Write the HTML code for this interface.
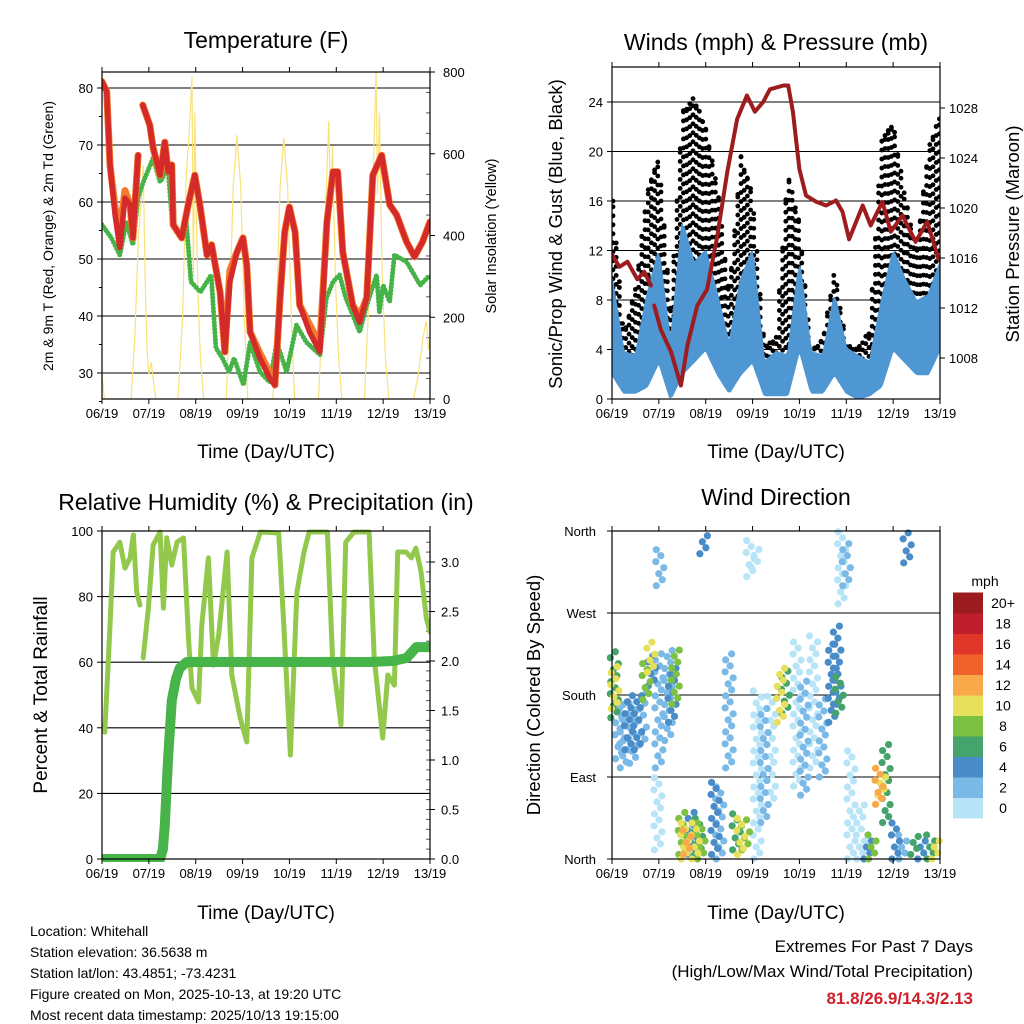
<!DOCTYPE html>
<html><head><meta charset="utf-8">
<style>
html,body{margin:0;padding:0;background:#fff;}
svg{display:block;font-family:"Liberation Sans",Arial,sans-serif;}
</style></head>
<body>
<svg id="svg" width="1024" height="1024" viewBox="0 0 1024 1024" xmlns="http://www.w3.org/2000/svg">
<rect width="1024" height="1024" fill="#fff"/>
<g id="texts" fill="#000">
<text x="266" y="48" font-size="23" text-anchor="middle">Temperature (F)</text>
<text x="776" y="50" font-size="23" text-anchor="middle">Winds (mph) &amp; Pressure (mb)</text>
<text x="266" y="510" font-size="23" text-anchor="middle">Relative Humidity (%) &amp; Precipitation (in)</text>
<text x="776" y="505" font-size="23" text-anchor="middle">Wind Direction</text>
<text x="266" y="458" font-size="19" text-anchor="middle">Time (Day/UTC)</text>
<text x="776" y="458" font-size="19" text-anchor="middle">Time (Day/UTC)</text>
<text x="266" y="919" font-size="19" text-anchor="middle">Time (Day/UTC)</text>
<text x="776" y="919" font-size="19" text-anchor="middle">Time (Day/UTC)</text>
<text transform="translate(53,236) rotate(-90)" font-size="14" text-anchor="middle">2m &amp; 9m T (Red, Orange) &amp; 2m Td (Green)</text>
<text transform="translate(496,236) rotate(-90)" font-size="14.5" text-anchor="middle">Solar Insolation (Yellow)</text>
<text transform="translate(562,234) rotate(-90)" font-size="18.5" text-anchor="middle">Sonic/Prop Wind &amp; Gust (Blue, Black)</text>
<text transform="translate(1019,234) rotate(-90)" font-size="18.5" text-anchor="middle">Station Pressure (Maroon)</text>
<text transform="translate(47,695) rotate(-90)" font-size="19" text-anchor="middle">Percent &amp; Total Rainfall</text>
<text transform="translate(540,695) rotate(-90)" font-size="18.5" text-anchor="middle">Direction (Colored By Speed)</text>
<text x="985" y="586" font-size="14" text-anchor="middle">mph</text>
<g font-size="14">
<text x="30" y="936">Location: Whitehall</text>
<text x="30" y="957">Station elevation: 36.5638 m</text>
<text x="30" y="978">Station lat/lon: 43.4851; -73.4231</text>
<text x="30" y="999">Figure created on Mon, 2025-10-13, at 19:20 UTC</text>
<text x="30" y="1020">Most recent data timestamp: 2025/10/13 19:15:00</text>
</g>
<text x="973" y="952" font-size="17" text-anchor="end">Extremes For Past 7 Days</text>
<text x="973" y="977" font-size="17" text-anchor="end">(High/Low/Max Wind/Total Precipitation)</text>
<text x="973" y="1004" font-size="17" font-weight="bold" fill="#d0202a" text-anchor="end">81.8/26.9/14.3/2.13</text>
</g>
</svg>
<script>
// ---------- data ----------
const dayLabels = ["06/19","07/19","08/19","09/19","10/19","11/19","12/19","13/19"];
const tempTicks = [30,40,50,60,70,80];
const solarTicks = [0,200,400,600,800];
const windTicks = [0,4,8,12,16,20,24];
const pressTicks = [1008,1012,1016,1020,1024,1028];
const rhTicks = [0,20,40,60,80,100];
const rainTicks = ["0.0","0.5","1.0","1.5","2.0","2.5","3.0"];
const dirTicks = ["North","East","South","West","North"];
const speedBins = ["0","2","4","6","8","10","12","14","16","18","20+"];

const tempDays = [0,.1,.17,.28,.38,.49,.6,.66,.77,.82,.87,1.02,1.09,1.24,1.34,1.41,1.49,1.52,1.7,1.84,1.98,2.09,2.24,2.34,2.52,2.62,2.73,2.88,3.01,3.09,3.16,3.37,3.58,3.69,3.8,3.9,4.0,4.12,4.22,4.43,4.65,4.8,4.93,5.03,5.14,5.35,5.5,5.65,5.78,5.97,6.14,6.29,6.5,6.67,6.84,7.0];
const temp9m = [81.1,79.4,66.5,57.7,52,60.7,59.5,53.7,68.2,null,77,73.5,69.5,64.7,70.5,65.3,66.5,56,53.7,59.5,64.7,59.5,50.7,52.5,44.2,33.7,46,51.2,53.7,48.9,37.2,32.6,29.1,27.9,43.2,54.7,59.1,54.7,41.9,37.2,33.7,56.5,65.3,65.3,51.2,41.9,38.9,43.2,64.7,68.2,59.5,57.7,53,50.4,53,56.5];
const temp2m = [81.1,79.4,66.5,59,55,62,59.5,53.7,68.2,null,77,73.5,69.5,64.7,70.5,65.3,66.5,56,53.7,59.5,64.7,59.5,50.7,52.5,44.2,33.7,48,51.2,53.7,48.9,37.2,33.5,30,27.9,43.2,54.7,59.1,54.7,41.9,38.5,35,56.5,65.3,65.3,51.2,41.9,40,43.2,64.7,68.2,59.5,57.7,53,50.4,53,56.5];
const dewDays = [0,.2,.38,.52,.66,.77,.87,1.09,1.24,1.41,1.5,1.68,1.8,1.9,2.1,2.33,2.43,2.57,2.71,2.82,3.02,3.16,3.37,3.58,3.73,3.94,4.15,4.36,4.65,4.79,4.93,5.07,5.2,5.5,5.65,5.86,5.92,6.0,6.14,6.24,6.5,6.79,7.0];
const dewVals = [56,53.7,50.7,56.5,52.5,60.7,63.3,67.7,63.5,66,56,53.7,56.5,46,44.2,47.2,34.4,32.6,30.2,32.6,27.9,35.4,30.2,28.4,35.4,30.2,38.4,35.4,33.2,43.2,46,47.2,43.2,37.2,41.9,47.2,40.7,45.4,42.5,50.7,49.5,45.4,47.2];
const solarDays = [0,.05,.62,.7,.78,.85,.88,.92,.96,1.0,1.05,1.1,1.15,1.62,1.72,1.8,1.86,1.92,1.95,1.98,2.02,2.05,2.1,2.17,2.65,2.72,2.8,2.88,2.96,3.04,3.11,3.65,3.72,3.8,3.88,3.96,4.04,4.11,4.62,4.7,4.78,4.84,4.88,4.92,4.98,5.05,5.12,5.6,5.68,5.75,5.8,5.85,5.88,5.92,5.98,6.05,6.12,6.65,6.75,6.85,6.92,6.97,7.0];
const solarVals = [60,0,0,150,400,500,572,300,120,60,90,40,0,0,200,550,650,790,300,700,400,250,100,0,0,200,520,646,520,200,0,0,200,520,640,520,200,0,0,200,500,680,450,620,300,100,0,0,200,400,600,800,500,700,300,100,0,0,60,150,190,120,150];

const windDays = [0,.25,.5,.75,1,1.25,1.5,1.75,2,2.25,2.5,2.75,3,3.25,3.5,3.75,4,4.25,4.5,4.75,5,5.25,5.5,5.75,6,6.25,6.5,6.75,7];
const sonicHigh = [9.7,3.8,3.5,8.4,12,4.4,14.3,11,12,8.4,4.4,9.7,12,3,3.8,3.5,11,3.8,3.5,8.4,4.1,3.5,3,7.9,12,9.7,7.9,8.4,11];
const sonicLow = [2,0.5,0.5,1,3,0,2,3,4,2,0.5,2,3,0.3,0.3,0.3,4,0.5,0.5,2,0.5,0,0.3,1,4,3,2,2,4];
const gustHigh = [17,5.2,8.9,16.7,19.7,7.3,23.3,24.4,21.9,17.3,8.4,19.7,16.5,4.4,4.9,18.3,14.3,3.8,4.9,10.5,4.4,4.1,5.6,21,22.3,16.5,12,20.2,23];
const gustLow = [8,2.5,2.5,6,9,2,10,9,10,6,2,7,9,1.5,2,2,8,2,1.5,5,2,1.5,1.5,5,9,7,5,6,8];
const pressDays = [0,.06,.16,.33,.54,.69,.83,.86,.9,1.04,1.26,1.47,1.61,1.82,2.03,2.25,2.46,2.67,2.88,3.05,3.23,3.37,3.66,3.76,3.86,4.0,4.14,4.36,4.57,4.78,4.92,5.06,5.35,5.52,5.77,5.95,6.2,6.48,6.73,6.97];
const pressVals = [1016.3,1015.9,1015.3,1015.7,1014.3,1014.9,1013.8,null,1012.2,1010.3,1008.5,1005.8,1009,1012.2,1013.5,1017.8,1022.9,1027.1,1029,1027.7,1028.5,1029.5,1029.8,1029.8,1027.7,1023.1,1021,1020.5,1020.2,1020.6,1019.7,1017.5,1020.2,1018.6,1020.5,1018.1,1019.4,1017.3,1018.9,1015.9];

const rhDays = [0,.06,.17,.24,.38,.49,.6,.67,.74,.81,.85,.88,.99,1.09,1.24,1.31,1.38,1.49,1.6,1.74,1.85,1.92,2.06,2.13,2.27,2.38,2.49,2.67,2.77,2.95,3.09,3.2,3.38,3.77,3.88,4.02,4.16,4.31,4.42,4.81,4.92,5.1,5.2,5.38,5.7,5.81,5.99,6.1,6.24,6.31,6.49,6.6,6.7,6.81,6.92,7.0];
const rhVals = [40.9,38.7,71,93.6,96.6,88.7,91.8,98.8,81.4,77.4,null,61.3,76.5,95.7,99.7,76.5,97.9,89.6,96.6,97.9,66.2,52.1,47.9,71.3,91.8,59.1,68.3,93.6,56.1,43,35.7,91.8,99.7,99.4,71.3,31.7,81.4,93.6,99.7,99.7,61.3,40.9,96.6,99.7,99.7,61.3,36.9,56.1,53,93.6,93.6,91.8,94.8,87.5,73.5,69.2];
const rainDays = [0,1.24,1.3,1.34,1.41,1.49,1.58,1.66,1.81,5.7,6.2,6.5,6.71,7.0];
const rainVals = [0,0,0.1,0.34,1.02,1.6,1.82,1.93,1.99,1.99,2.0,2.03,2.14,2.14];

const dirDay = [0.05,0.06,0.15,0.25,0.35,0.45,0.55,0.65,0.73,0.83,0.85,0.98,1.0,1.02,1.2,1.28,1.35,1.5,1.55,1.6,1.7,1.78,1.85,1.9,1.95,2.2,2.3,2.5,2.65,2.75,2.85,2.95,3.05,3.1,3.25,3.4,3.6,3.7,3.95,4.1,4.3,4.5,4.7,4.8,4.85,4.9,5.0,5.1,5.3,5.45,5.55,5.7,5.75,5.85,6.05,6.2,6.3,6.45,6.6,6.8,6.9];
const dirLo = [155,165,110,100,120,105,120,125,175,205,190,10,100,300,130,150,170,5,0,5,5,0,5,0,335,5,0,100,10,5,10,310,320,0,40,60,150,160,80,70,100,90,150,170,160,280,300,0,0,0,0,60,70,40,0,0,325,5,0,0,0];
const dirHi = [232,215,180,170,185,175,185,190,215,238,225,90,230,345,230,210,230,55,40,35,55,45,50,40,360,90,80,230,55,50,45,350,345,190,170,180,215,210,240,200,250,180,240,260,200,360,350,120,60,25,30,100,95,130,40,30,360,30,25,30,20];
const dirSpeed = [6,10,2,2,4,2,4,2,8,10,4,0,2,2,2,4,8,8,10,12,4,10,6,8,4,4,2,2,6,10,8,0,0,0,2,0,10,6,0,2,0,2,4,4,6,0,2,0,0,4,8,12,10,6,4,2,4,6,4,6,10];

// ---------- helpers ----------
const NS="http://www.w3.org/2000/svg";
const svg=document.getElementById('svg');
function mk(tag,attrs,parent){const e=document.createElementNS(NS,tag);for(const k in attrs)e.setAttribute(k,attrs[k]);(parent||svg).appendChild(e);return e;}
function lin(d0,d1,r0,r1){return v=>r0+(v-d0)*(r1-r0)/(d1-d0);}
function pathFrom(days,vals,xf,yf){let d="",pen=false;for(let i=0;i<days.length;i++){if(vals[i]===null){pen=false;continue;}d+=(pen?"L":"M")+xf(days[i]).toFixed(1)+","+yf(vals[i]).toFixed(1);pen=true;}return d;}
function interp(days,vals,t){for(let i=0;i<days.length-1;i++){if(t>=days[i]&&t<=days[i+1]){const f=(t-days[i])/(days[i+1]-days[i]);return vals[i]+f*(vals[i+1]-vals[i]);}}return vals[vals.length-1];}
const speedColors=["#b8e4f8","#7bb9e6","#4a8cc8","#45a46c","#7dc142","#e6e05a","#f9a94a","#f0622c","#e0362a","#bf1e2d","#9b1b1f"];

function panelFrame(g,x0,x1,y0,y1,xf){
  mk('rect',{x:x0,y:y0,width:x1-x0,height:y1-y0,fill:'none',stroke:'#000','stroke-width':1.2},g);
  dayLabels.forEach((lab,i)=>{const x=xf(i);
    mk('line',{x1:x,y1:y1,x2:x,y2:y1+5,stroke:'#000'},g);
    mk('line',{x1:x,y1:y0,x2:x,y2:y0-5,stroke:'#000'},g);
    const t=mk('text',{x:x,y:y1+19,'font-size':13,'text-anchor':'middle'},g);t.textContent=lab;
    
    
  });
}

// ---------- Panel 1: Temperature ----------
{
const g=mk('g',{});


const X0=102,X1=430,Y0=72,Y1=399;
const xf=lin(0,7,X0,X1), yT=lin(30,80,373,88), yS=lin(0,800,399,72);
const clip=mk('clipPath',{id:'c1'},g);mk('rect',{x:X0,y:Y0,width:X1-X0,height:Y1-Y0},clip);
tempTicks.forEach(v=>{const y=yT(v);mk('line',{x1:X0,x2:X1,y1:y,y2:y,stroke:'#000','stroke-width':1.1},g);
  mk('line',{x1:X0-5,x2:X0,y1:y,y2:y,stroke:'#000'},g);
  const t=mk('text',{x:X0-9,y:y+5,'font-size':13,'text-anchor':'end'},g);t.textContent=v;
  
  
});
for(let v=25;v<=82;v+=5){if(v%10)mk('line',{x1:X0-3,x2:X0,y1:yT(v),y2:yT(v),stroke:'#000'},g);}
solarTicks.forEach(v=>{const y=yS(v);mk('line',{x1:X1,x2:X1+5,y1:y,y2:y,stroke:'#000'},g);
  const t=mk('text',{x:X1+13,y:y+5,'font-size':13},g);t.textContent=v;
  
  
});
for(let v=50;v<800;v+=50){if(v%200)mk('line',{x1:X1-4,x2:X1,y1:yS(v),y2:yS(v),stroke:'#555'},g);}
const cg=mk('g',{'clip-path':'url(#c1)'},g);
const sol=mk('path',{d:pathFrom(solarDays,solarVals,xf,yS),fill:'none',stroke:'#f9e27a','stroke-width':1.2},cg);


const dew=mk('path',{d:pathFrom(dewDays,dewVals,xf,yT),fill:'none',stroke:'#45b347','stroke-width':5,'stroke-linecap':'round','stroke-dasharray':'0 3.5'},cg);


const or=mk('path',{d:pathFrom(tempDays,temp2m,xf,yT),fill:'none',stroke:'#f47b2a','stroke-width':7,'stroke-linejoin':'round','stroke-linecap':'round'},cg);


const rd=mk('path',{d:pathFrom(tempDays,temp9m,xf,yT),fill:'none',stroke:'#d42a2a','stroke-width':5.5,'stroke-linejoin':'round','stroke-linecap':'round'},cg);


panelFrame(g,X0,X1,Y0,Y1,xf);
}

// ---------- Panel 2: Winds ----------
{
const g=mk('g',{});


const X0=612,X1=940,Y0=67,Y1=399;
const xf=lin(0,7,X0,X1), yW=lin(0,24,399,102), yP=lin(1008,1028,358,108);
const clip=mk('clipPath',{id:'c2'},g);mk('rect',{x:X0,y:Y0,width:X1-X0,height:Y1-Y0},clip);
windTicks.forEach(v=>{const y=yW(v);mk('line',{x1:X0,x2:X1,y1:y,y2:y,stroke:'#000','stroke-width':1.1},g);
  mk('line',{x1:X0-5,x2:X0,y1:y,y2:y,stroke:'#000'},g);
  const t=mk('text',{x:X0-9,y:y+5,'font-size':13,'text-anchor':'end'},g);t.textContent=v;
  
  
});
pressTicks.forEach(v=>{const y=yP(v);mk('line',{x1:X1,x2:X1+5,y1:y,y2:y,stroke:'#000'},g);
  const t=mk('text',{x:X1+9,y:y+5,'font-size':13},g);t.textContent=v;
  
  
});
const cg=mk('g',{'clip-path':'url(#c2)'},g);
const gg=mk('g',{fill:'#000'},cg);


let k=0;
const offs=[0,4,1.5,5.5,2.5,7,3.5,0.8,6];
for(let px=X0+1;px<X1;px+=3.2){const t=(px-X0)/(X1-X0)*7;
  const lo=yW(interp(windDays,gustLow,t)),hi=yW(interp(windDays,gustHigh,t));
  const o=offs[(k++)%offs.length];
  for(let y=lo-o;y>=hi;y-=9){mk('circle',{cx:px,cy:y,r:2.4},gg);}
  mk('circle',{cx:px,cy:hi+o*0.5,r:2.4},gg);
}
let top="",bot="";
for(let px=X0;px<=X1;px+=2){const t=(px-X0)/(X1-X0)*7;
  top+=(top?"L":"M")+px+","+yW(interp(windDays,sonicHigh,t)).toFixed(1);
  bot="L"+px+","+yW(interp(windDays,sonicLow,t)).toFixed(1)+bot;}
const bl=mk('path',{d:top+bot+"Z",fill:'#4f97d2',stroke:'#4f97d2','stroke-width':2,'stroke-linejoin':'round'},cg);


const pr=mk('path',{d:pathFrom(pressDays,pressVals,xf,yP),fill:'none',stroke:'#9e1b1e','stroke-width':4,'stroke-linejoin':'round','stroke-linecap':'round'},cg);


panelFrame(g,X0,X1,Y0,Y1,xf);
}

// ---------- Panel 3: RH ----------
{
const g=mk('g',{});


const X0=102,X1=430,Y0=531,Y1=859;
const xf=lin(0,7,X0,X1), yR=lin(0,100,859,531), yN=lin(0,3,859,562);
const clip=mk('clipPath',{id:'c3'},g);mk('rect',{x:X0,y:Y0-3,width:X1-X0,height:Y1-Y0+6},clip);
rhTicks.forEach(v=>{const y=yR(v);mk('line',{x1:X0,x2:X1,y1:y,y2:y,stroke:'#000','stroke-width':1.1},g);
  mk('line',{x1:X0-5,x2:X0,y1:y,y2:y,stroke:'#000'},g);
  const t=mk('text',{x:X0-9,y:y+5,'font-size':13,'text-anchor':'end'},g);t.textContent=v;
  
  
});
rainTicks.forEach(v=>{const y=yN(parseFloat(v));mk('line',{x1:X1,x2:X1+5,y1:y,y2:y,stroke:'#000'},g);
  const t=mk('text',{x:X1+11,y:y+5,'font-size':13},g);t.textContent=v;
  
  
});
for(let v=0.1;v<3.3;v+=0.1){mk('line',{x1:X1-4,x2:X1,y1:yN(v),y2:yN(v),stroke:'#555'},g);}
const cg=mk('g',{'clip-path':'url(#c3)'},g);
const rh=mk('path',{d:pathFrom(rhDays,rhVals,xf,yR),fill:'none',stroke:'#92c94c','stroke-width':5,'stroke-linejoin':'round','stroke-linecap':'round'},cg);


const rn=mk('path',{d:pathFrom(rainDays,rainVals,xf,yN),fill:'none',stroke:'#47b449','stroke-width':10,'stroke-linejoin':'round','stroke-linecap':'round'},cg);


panelFrame(g,X0,X1,Y0,Y1,xf);
}

// ---------- Panel 4: Wind direction ----------
{
const g=mk('g',{});


const X0=612,X1=940,Y0=531,Y1=859;
const xf=lin(0,7,X0,X1), yD=lin(0,360,859,531);
dirTicks.forEach((lab,i)=>{const y=yD(i*90);mk('line',{x1:X0,x2:X1,y1:y,y2:y,stroke:'#000','stroke-width':1.1},g);
  mk('line',{x1:X0-5,x2:X0,y1:y,y2:y,stroke:'#000'},g);
  const t=mk('text',{x:X0-16,y:y+5,'font-size':13,'text-anchor':'end'},g);t.textContent=lab;
  
  
});
const cg=mk('g',{},g);


const order=dirDay.map((d,i)=>i).sort((a,b)=>dirSpeed[a]-dirSpeed[b]);
const jit=[-3.5,2.5,-1,4,-4,1];
order.forEach(i=>{const col=speedColors[Math.min(10,Math.floor(dirSpeed[i]/2))];
  const x=xf(dirDay[i]);let n=0;
  for(let y=yD(dirLo[i]);y>=yD(dirHi[i])-0.1;y-=6){
    mk('circle',{cx:x+jit[(n++)%jit.length],cy:y,r:3.6,fill:col},cg);}
});
panelFrame(g,X0,X1,Y0,Y1,xf);
const cb=mk('g',{},g);


speedBins.forEach((lab,i)=>{const h=20.5,y=818-(i+1)*h;
  const r=mk('rect',{x:953,y:y,width:30,height:h+0.5,fill:speedColors[i]},cb);
  
  
  const t=mk('text',{x:1003,y:y+h/2+5,'font-size':14,'text-anchor':'middle'},cb);t.textContent=lab;
  
  
});
}
</script>
</body></html>
